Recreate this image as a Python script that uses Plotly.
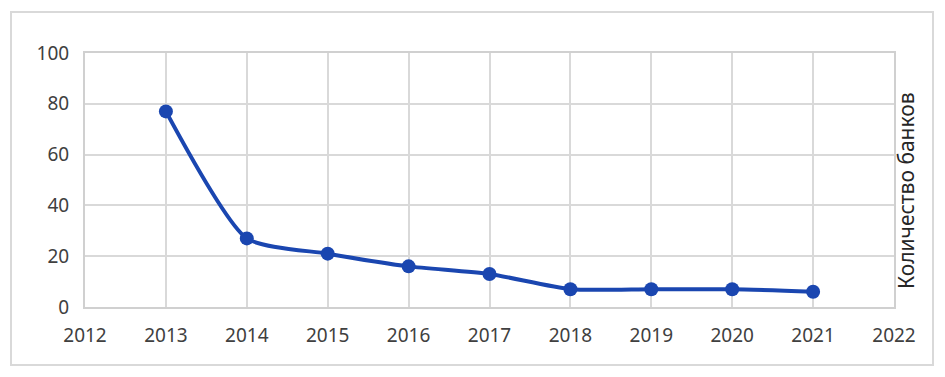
import plotly.graph_objects as go

years = [2013, 2014, 2015, 2016, 2017, 2018, 2019, 2020, 2021]
banks = [77, 27, 21, 16, 13, 7, 7, 7, 6]
x_ticks = list(range(2012, 2023))
y_ticks = [0, 20, 40, 60, 80, 100]
y_title = "Количество банков"

# the page body adds an 8px offset, so figure coordinates are shifted by -8
OFF = 8
W, H = 945, 377
L, T = 85 - OFF, 53 - OFF
R = W - (894 - OFF)
B = H - (307 - OFF)
pw, ph = W - L - R, H - T - B


def px_x(px):
    return (px - OFF - L) / pw


def px_y(py):
    return (H - B - (py - OFF)) / ph


fig = go.Figure()
fig.add_trace(go.Scatter(
    x=years, y=banks, mode="lines+markers",
    line=dict(color="#1a46b0", width=4, shape="spline", smoothing=0.6),
    marker=dict(color="#1a46b0", size=14),
    showlegend=False, hoverinfo="x+y",
))

font = dict(family="Noto Sans, Open Sans, sans-serif", size=19, color="#404040")
fig.update_layout(
    width=W, height=H,
    margin=dict(l=L, r=R, t=T, b=B, autoexpand=False),
    paper_bgcolor="white", plot_bgcolor="white",
    font=font,
    xaxis=dict(range=[2012, 2022], tickvals=x_ticks, showgrid=True, automargin=False,
               gridcolor="#d9d9d9", gridwidth=2, showline=True, linecolor="#d0d0d0",
               linewidth=2, mirror=True, zeroline=False, ticks="", ticklen=0,
               tickfont=font),
    yaxis=dict(range=[0, 100], tickvals=y_ticks, showgrid=True, automargin=False,
               gridcolor="#d9d9d9", gridwidth=2, showline=True, linecolor="#d0d0d0",
               linewidth=2, mirror=True, zeroline=False, ticks="", tickfont=font),
)
fig.update_xaxes(ticklabelstandoff=10)
fig.update_yaxes(ticklabelstandoff=10)

# outer border
fig.add_shape(type="rect", xref="paper", yref="paper",
              x0=px_x(11), x1=px_x(933), y0=px_y(365), y1=px_y(12),
              line=dict(color="#d9d9d9", width=2), fillcolor="rgba(0,0,0,0)", layer="below")

fig.add_annotation(text=y_title, xref="paper", yref="paper",
                   x=px_x(906), y=px_y(190), textangle=-90,
                   showarrow=False, xanchor="center", yanchor="middle",
                   font=dict(family="Noto Sans, Open Sans, sans-serif", size=21, color="#262626"))

fig.write_html("out.html")
